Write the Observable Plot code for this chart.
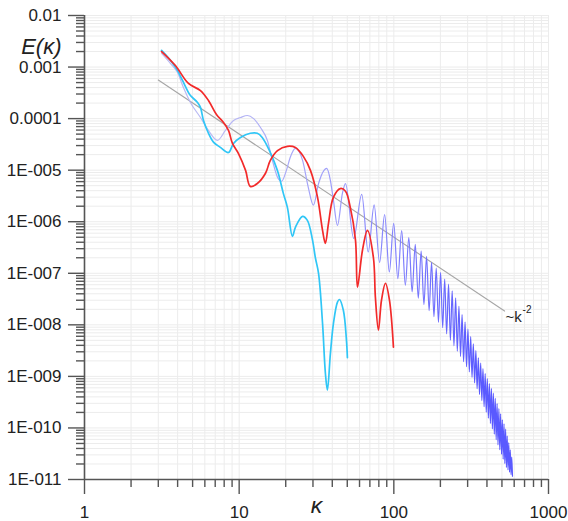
<!DOCTYPE html>
<html>
<head>
<meta charset="utf-8">
<script src="https://cdn.jsdelivr.net/npm/d3@7"></script>
<script src="https://cdn.jsdelivr.net/npm/@observablehq/plot@0.6"></script>
<style>
  html, body { margin: 0; padding: 0; background: #fff; }
</style>
</head>
<body>
<div id="chart"></div>
<script>
// Axis ticks and labels
const xTicks = [1, 10, 100, 1000];
const xTickLabels = ["1", "10", "100", "1000"];
const yTicks = [1e-11, 1e-10, 1e-9, 1e-8, 1e-7, 1e-6, 1e-5, 1e-4, 1e-3, 1e-2];
const yTickLabels = ["1E-011", "1E-010", "1E-009", "1E-008", "1E-007", "1E-006", "1E-005", "0.0001", "0.001", "0.01"];

// Reference slope ~k^-2 (end points)
const slopeK = [3, 520];
const slopeE = [5.6e-4, 1.85e-8];

// Red spectrum
const redK = [3.15, 3.87, 4.70, 5.62, 6.33, 7.13, 7.92, 8.53, 9.05, 9.9, 11.0, 11.8, 13.1, 14.8, 15.9, 17.7, 20.5, 23.1, 26.0, 28.9, 32.1, 34.6, 36.1, 37.8, 40.7, 45.1, 48.7, 52.3, 56.5, 58.2, 62.7, 67.5, 73.8, 76.0, 79.5, 83.2, 88.3, 93.7, 99.4];
const redE = [2.0e-3, 1.07e-3, 4.8e-4, 3.5e-4, 2.25e-4, 1.2e-4, 8.4e-5, 5.9e-5, 3.3e-5, 2.1e-5, 9.9e-6, 4.85e-6, 5.5e-6, 8.7e-6, 1.55e-5, 2.4e-5, 2.9e-5, 2.75e-5, 1.85e-5, 9.9e-6, 3.0e-6, 6.8e-7, 3.8e-7, 9.3e-7, 3.0e-6, 4.4e-6, 3.9e-6, 1.9e-6, 4.4e-7, 5.4e-8, 2.8e-7, 6.8e-7, 2.0e-7, 3.4e-8, 7.9e-9, 3.0e-8, 6.4e-8, 3.0e-8, 3.7e-9];

// Cyan spectrum
const cyanK = [3.15, 3.6, 3.99, 4.30, 4.63, 4.84, 5.38, 5.62, 5.88, 6.33, 6.82, 7.56, 8.53, 9.19, 10.2, 11.8, 13.1, 14.1, 15.9, 16.7, 17.9, 19.3, 20.5, 22.1, 23.1, 25.7, 27.6, 29.8, 31.1, 32.6, 34.6, 36.1, 37.2, 38.9, 40.7, 43.2, 44.5, 47.2, 49.4, 50.1];
const cyanE = [2.1e-3, 1.34e-3, 8.6e-4, 5.5e-4, 3.5e-4, 2.8e-4, 2.06e-4, 1.65e-4, 9.2e-5, 5.2e-5, 3.5e-5, 2.77e-5, 2.2e-5, 3.3e-5, 4.3e-5, 5.2e-5, 5.2e-5, 4.3e-5, 2.2e-5, 1.55e-5, 8.7e-6, 3.55e-6, 1.9e-6, 5.2e-7, 7.8e-7, 1.27e-6, 1.06e-6, 4.4e-7, 2.0e-7, 1.0e-7, 1.07e-8, 1.15e-9, 5.4e-10, 2.8e-9, 1.07e-8, 2.75e-8, 3.1e-8, 1.9e-8, 5.0e-9, 2.3e-9];

// Blue spectrum: low-wavenumber part
const blueLowK = [3.15, 3.6, 3.99, 4.36, 4.84, 5.62, 6.33, 7.24, 8.15, 9.19, 10.2, 11.3, 12.4, 13.7, 15.2, 16.4, 17.7, 18.8, 20.2, 21.4, 23.1, 25.7, 28.0, 30.2, 32.6, 36.8, 38.9, 40.7, 43.2, 46.5, 48.7, 55.0];
const blueLowE = [1.84e-3, 1.17e-3, 7.9e-4, 4.0e-4, 2.06e-4, 1.05e-4, 5.9e-5, 3.8e-5, 5.9e-5, 9.2e-5, 1.05e-4, 1.15e-4, 1.0e-4, 6.8e-5, 3.8e-5, 1.55e-5, 7.3e-6, 6.1e-6, 9.9e-6, 1.78e-5, 2.65e-5, 1.55e-5, 4.6e-6, 2.1e-6, 5.5e-6, 1.08e-5, 6.3e-6, 2.6e-6, 8.5e-7, 3.55e-6, 5.5e-6, 4.77e-7];

// Blue spectrum: oscillation maxima beyond k = 60
const bluePeakK = [62.0, 74.6, 87.2, 99.8, 112.4, 125.0, 137.6, 150.2, 162.8, 175.4, 188.0, 200.6, 213.2, 225.8, 238.4, 251.0, 263.6, 276.2, 288.8, 301.4, 314.0, 326.6, 339.2, 351.8, 364.4, 377.0, 389.6, 402.2, 414.8, 427.4, 440.0, 452.6, 465.2, 477.8, 490.4, 503.0, 515.6, 528.2, 540.8, 553.4, 566.0, 578.6];
const bluePeakE = [3.40e-6, 2.12e-6, 1.38e-6, 9.27e-7, 6.72e-7, 4.90e-7, 3.66e-7, 2.70e-7, 2.13e-7, 1.63e-7, 1.26e-7, 1.04e-7, 7.72e-8, 6.15e-8, 4.56e-8, 3.35e-8, 2.29e-8, 1.58e-8, 1.13e-8, 8.22e-9, 5.88e-9, 4.30e-9, 3.15e-9, 2.29e-9, 1.82e-9, 1.41e-9, 1.13e-9, 9.02e-10, 7.22e-10, 5.83e-10, 4.72e-10, 3.77e-10, 2.96e-10, 2.36e-10, 1.88e-10, 1.44e-10, 1.20e-10, 9.53e-11, 6.97e-11, 5.19e-11, 3.78e-11, 2.72e-11];

// Blue spectrum: oscillation minima beyond k = 60
const blueDipK = [68.3, 80.9, 93.5, 106.1, 118.7, 131.3, 143.9, 156.5, 169.1, 181.7, 194.3, 206.9, 219.5, 232.1, 244.7, 257.3, 269.9, 282.5, 295.1, 307.7, 320.3, 332.9, 345.5, 358.1, 370.7, 383.3, 395.9, 408.5, 421.1, 433.7, 446.3, 458.9, 471.5, 484.1, 496.7, 509.3, 521.9, 534.5, 547.1, 559.7, 572.3, 584.9];
const blueDipE = [2.59e-7, 1.62e-7, 1.06e-7, 7.89e-8, 5.87e-8, 4.34e-8, 3.29e-8, 2.48e-8, 1.88e-8, 1.44e-8, 1.12e-8, 8.79e-9, 6.64e-9, 5.04e-9, 3.92e-9, 3.08e-9, 2.44e-9, 1.93e-9, 1.54e-9, 1.22e-9, 9.57e-10, 7.45e-10, 5.78e-10, 4.46e-10, 3.40e-10, 2.59e-10, 2.01e-10, 1.55e-10, 1.22e-10, 9.62e-11, 7.55e-11, 5.90e-11, 4.70e-11, 3.78e-11, 3.07e-11, 2.48e-11, 2.04e-11, 1.71e-11, 1.53e-11, 1.38e-11, 1.24e-11, 1.16e-11];

// ---- tables ----
const rows = (ks, es) => ks.map((k, i) => ({k, E: es[i]}));
const slopeRows = rows(slopeK, slopeE);
const redRows = rows(redK, redE);
const cyanRows = rows(cyanK, cyanE);
const blueRows = rows(blueLowK, blueLowE)
  .concat(rows(bluePeakK, bluePeakE), rows(blueDipK, blueDipE))
  .sort((a, b) => a.k - b.k);

// minor tick positions 2..9 within each decade
const minorOf = (majors) => majors.slice(0, -1).flatMap(d => [2, 3, 4, 5, 6, 7, 8, 9].map(m => m * d));
const xMinor = minorOf(xTicks);
const yMinor = minorOf(yTicks);

const axisColor = "#555";
const labelColor = "#222";

const chart = Plot.plot({
  width: 568,
  height: 521,
  marginLeft: 84,
  marginRight: 20,
  marginTop: 15,
  marginBottom: 42,
  style: {fontFamily: "'Liberation Sans', Arial, sans-serif", fontSize: "17px", color: labelColor, background: "#fff"},
  x: {type: "log", domain: [1, 1000], label: null},
  y: {type: "log", domain: [1e-11, 1e-2], label: null},
  marks: [
    Plot.gridX(xTicks.concat(xMinor), {stroke: "#ececec", strokeOpacity: 1}),
    Plot.gridY(yTicks.concat(yMinor), {stroke: "#ececec", strokeOpacity: 1}),
    Plot.line(slopeRows, {x: "k", y: "E", stroke: "#a6a6a6", strokeWidth: 1.1}),
    Plot.line(blueRows, {x: "k", y: "E", stroke: "url(#blueFade)", strokeWidth: 1.2, curve: "monotone-x"}),
    Plot.line(cyanRows, {x: "k", y: "E", stroke: "#30c6f6", strokeWidth: 1.7, curve: "catmull-rom"}),
    Plot.line(redRows, {x: "k", y: "E", stroke: "#f22a2a", strokeWidth: 1.7, curve: "catmull-rom"}),
    Plot.ruleX([1], {stroke: axisColor, strokeWidth: 1.6}),
    Plot.ruleY([1e-11], {stroke: axisColor, strokeWidth: 1.6}),
    Plot.axisX(xTicks, {tickSize: 15, tickPadding: 11, tickFormat: d => xTickLabels[xTicks.indexOf(d)], fontSize: 17, stroke: axisColor, strokeWidth: 1.4, fill: labelColor, label: null}),
    Plot.axisX(xMinor, {tickSize: 8, stroke: axisColor, strokeWidth: 1.4, fill: "none", label: null}),
    Plot.axisY(yTicks, {tickSize: 16, tickPadding: 7, tickFormat: d => yTickLabels[yTicks.indexOf(d)], fontSize: 17, stroke: axisColor, strokeWidth: 1.4, fill: labelColor, label: null}),
    Plot.axisY(yMinor, {tickSize: 8, stroke: axisColor, strokeWidth: 1.4, fill: "none", label: null}),
    Plot.text(["E(κ)"], {text: d => d, frameAnchor: "top-left", dx: -23, dy: 23, textAnchor: "end", fontSize: 22, fontStyle: "italic", fill: labelColor}),
    Plot.text(["κ"], {text: d => d, frameAnchor: "bottom", dy: 33, fontSize: 23, fontStyle: "italic", fill: labelColor}),
    Plot.text(slopeRows.slice(-1), {x: "k", y: "E", text: () => "~k", textAnchor: "start", dx: 1, dy: 6, fontSize: 15, fill: labelColor}),
    Plot.text(slopeRows.slice(-1), {x: "k", y: "E", text: () => "-2", textAnchor: "start", dx: 18, dy: -1, fontSize: 10, fill: labelColor})
  ]
});

// colour ramp along k for the blue spectrum (pale at low k, saturated where oscillations pack densely)
const ns = "http://www.w3.org/2000/svg";
const xs = chart.scale("x");
const defs = document.createElementNS(ns, "defs");
const grad = document.createElementNS(ns, "linearGradient");
grad.setAttribute("id", "blueFade");
grad.setAttribute("gradientUnits", "userSpaceOnUse");
grad.setAttribute("x1", xs.apply(8));
grad.setAttribute("x2", xs.apply(350));
grad.setAttribute("y1", 0);
grad.setAttribute("y2", 0);
[["0", "#b9b9f3"], ["0.45", "#9c9cfb"], ["1", "#5a5aff"]].forEach(([o, c]) => {
  const s = document.createElementNS(ns, "stop");
  s.setAttribute("offset", o);
  s.setAttribute("stop-color", c);
  grad.appendChild(s);
});
defs.appendChild(grad);
chart.insertBefore(defs, chart.firstChild);

document.getElementById("chart").appendChild(chart);
</script>
</body>
</html>
